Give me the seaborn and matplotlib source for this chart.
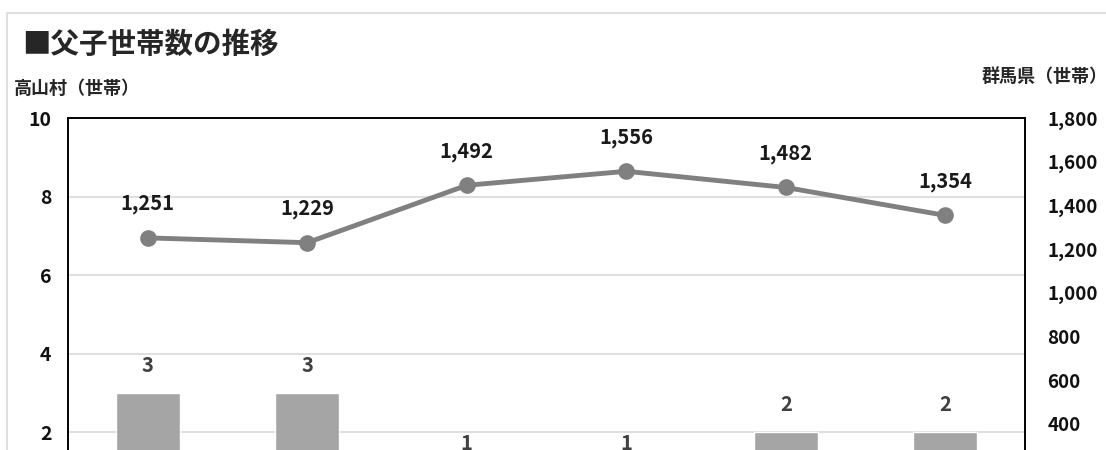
import numpy as np
import pandas as pd
import matplotlib
matplotlib.use("Agg")
import matplotlib.pyplot as plt
import seaborn as sns
from matplotlib.patches import Rectangle

# ============================
# Data
# ============================
years = ["平成7年", "平成12年", "平成17年", "平成22年", "平成27年", "令和2年"]
takayama = [3, 3, 1, 1, 2, 2]            # 高山村 (bars, left axis)
gunma = [1251, 1229, 1492, 1556, 1482, 1354]   # 群馬県 (line, right axis)
left_ticks = [0, 2, 4, 6, 8, 10]
right_ticks = [0, 200, 400, 600, 800, 1000, 1200, 1400, 1600, 1800]

df = pd.DataFrame({"year": years, "takayama": takayama, "gunma": gunma})
df["pos"] = np.arange(len(df))

sns.set_theme(style="white")
jp_font = ["Noto Sans CJK JP", "DejaVu Sans"]
plt.rcParams["font.family"] = jp_font

fig = plt.figure(figsize=(11.06, 4.5), dpi=100)
ax = fig.add_axes([0.0615, -0.1356, 0.8653, 0.8733])

# outer light border
fig.patches.append(Rectangle((7 / 1106, -0.5), 1.2, 1.5 - 13 / 450,
                             transform=fig.transFigure, fill=False,
                             edgecolor="#D9D9D9", linewidth=1.2))

# ============================
# Bars (left axis)
# ============================
sns.barplot(data=df, x="pos", y="takayama", color="#A5A5A5", width=0.4,
            saturation=1, ax=ax, native_scale=True, zorder=2)
ax.set_xlim(-0.5, len(df) - 0.5)
ax.set_ylim(0, 10)
ax.set_yticks(left_ticks)
ax.set_xticks(df["pos"])
ax.set_xticklabels(years)
ax.yaxis.grid(True, color="#D9D9D9", linewidth=1.2, zorder=0)
ax.set_axisbelow(True)
ax.set_xlabel("")
ax.set_ylabel("")
ax.tick_params(axis="y", length=0, pad=12, labelsize=14, labelcolor="#111111")
for lbl in ax.get_yticklabels():
    lbl.set_fontweight("bold")

for x, v in zip(df["pos"], df["takayama"]):
    ax.annotate(f"{v}", (x, v), xytext=(0, 28), textcoords="offset pixels",
                ha="center", va="center", fontsize=14.5, fontweight="bold",
                color="#404040")

# ============================
# Line (right axis)
# ============================
ax2 = ax.twinx()
sns.lineplot(data=df, x="pos", y="gunma", color="#808080", linewidth=3.5,
             marker="o", markersize=12, markeredgewidth=0, ax=ax2, zorder=3)
ax2.set_ylim(0, 1800)
ax2.set_yticks(right_ticks)
ax2.set_yticklabels([f"{t:,}" for t in right_ticks])
ax2.set_ylabel("")
ax2.tick_params(axis="y", length=0, pad=16, labelsize=13.5, labelcolor="#111111")
for lbl in ax2.get_yticklabels():
    lbl.set_fontweight("bold")

for x, v in zip(df["pos"], df["gunma"]):
    ax2.annotate(f"{v:,}", (x, v), xytext=(0, 34), textcoords="offset pixels",
                 ha="center", va="center", fontsize=14.5, fontweight="bold",
                 color="#1a1a1a")

for a in (ax, ax2):
    for side in ("left", "right", "top"):
        a.spines[side].set_visible(True)
        a.spines[side].set_color("#000000")
        a.spines[side].set_linewidth(1.2)

# ============================
# Titles
# ============================
fig.text(22 / 1106, 1 - 45 / 450, "■父子世帯数の推移", family=jp_font,
         fontsize=20.5, fontweight="bold", va="center", ha="left")
fig.text(14 / 1106, 1 - 88 / 450, "高山村（世帯）", family=jp_font,
         fontsize=13, fontweight="bold", va="center", ha="left")
fig.text(982 / 1106, 1 - 76 / 450, "群馬県（世帯）", family=jp_font,
         fontsize=13, fontweight="bold", va="center", ha="left")

fig.savefig("out.png", dpi=100)
